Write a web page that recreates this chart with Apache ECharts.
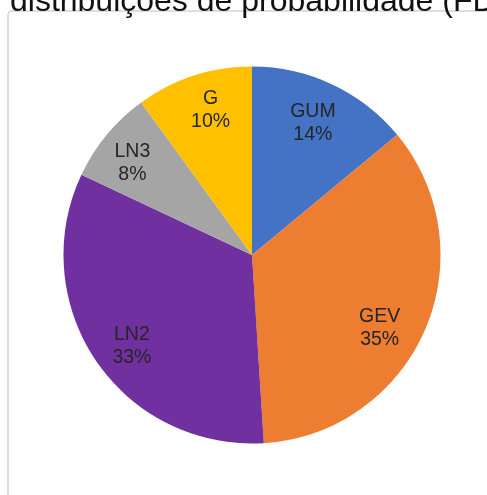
<!DOCTYPE html>
<html>
<head>
<meta charset="utf-8">
<script src="https://cdn.jsdelivr.net/npm/echarts@6/dist/echarts.min.js"></script>
<style>
  html, body { margin: 0; padding: 0; background: #ffffff; }
  #chart { width: 487px; height: 495px; }
</style>
</head>
<body>
<div id="chart"></div>
<script>
// Share of each probability distribution (percent)
const distributions = ['GUM', 'GEV', 'LN2', 'LN3', 'G'];
const shares = [14, 35, 33, 8, 10];
const sliceColors = ['#4472C4', '#ED7D31', '#7030A0', '#A5A5A5', '#FFC000'];
const titleText = 'distribuições de probabilidade (FDP)';

// small nudges of the data labels away from the ring midpoint
const labelNudges = [[-3, 4], [-10, 14], [4, 7], [-4, 4], [5, -2]];

const pieData = distributions.map((name, i) => ({
  name: name,
  value: shares[i],
  itemStyle: { color: sliceColors[i] }
}));

const chart = echarts.init(document.getElementById('chart'), null, { renderer: 'canvas' });

const R = 188.5;
const center = [252, 255];

chart.setOption({
  backgroundColor: '#ffffff',
  animation: false,
  graphic: [
    {
      type: 'rect',
      shape: { x: 8, y: 11, width: 700, height: 700, r: 4 },
      style: { fill: 'none', stroke: '#d4d4d4', lineWidth: 1.5 },
      silent: true,
      z: 0
    },
    {
      type: 'text',
      left: 10,
      top: -14,
      style: {
        text: titleText,
        font: '32px "Liberation Sans", Arial, sans-serif',
        fill: '#111111'
      },
      silent: true,
      z: 10
    }
  ],
  series: [
    {
      // slices
      type: 'pie',
      center: center,
      radius: [0, R],
      startAngle: 90,
      clockwise: true,
      label: { show: false },
      labelLine: { show: false },
      silent: true,
      data: pieData
    },
    {
      // transparent ring carrying the category / percent labels
      type: 'pie',
      center: center,
      radius: [R * 0.56, R],
      startAngle: 90,
      clockwise: true,
      silent: true,
      avoidLabelOverlap: false,
      itemStyle: { color: 'rgba(0,0,0,0)' },
      label: {
        show: true,
        position: 'inside',
        formatter: p => p.name + '\n' + p.value + '%',
        fontFamily: '"Liberation Sans", Arial, sans-serif',
        fontSize: 19.5,
        lineHeight: 23,
        color: '#262626',
        align: 'center'
      },
      labelLine: { show: false },
      data: distributions.map((name, i) => ({
        name: name,
        value: shares[i],
        label: { offset: labelNudges[i] }
      }))
    }
  ]
});
</script>
</body>
</html>
